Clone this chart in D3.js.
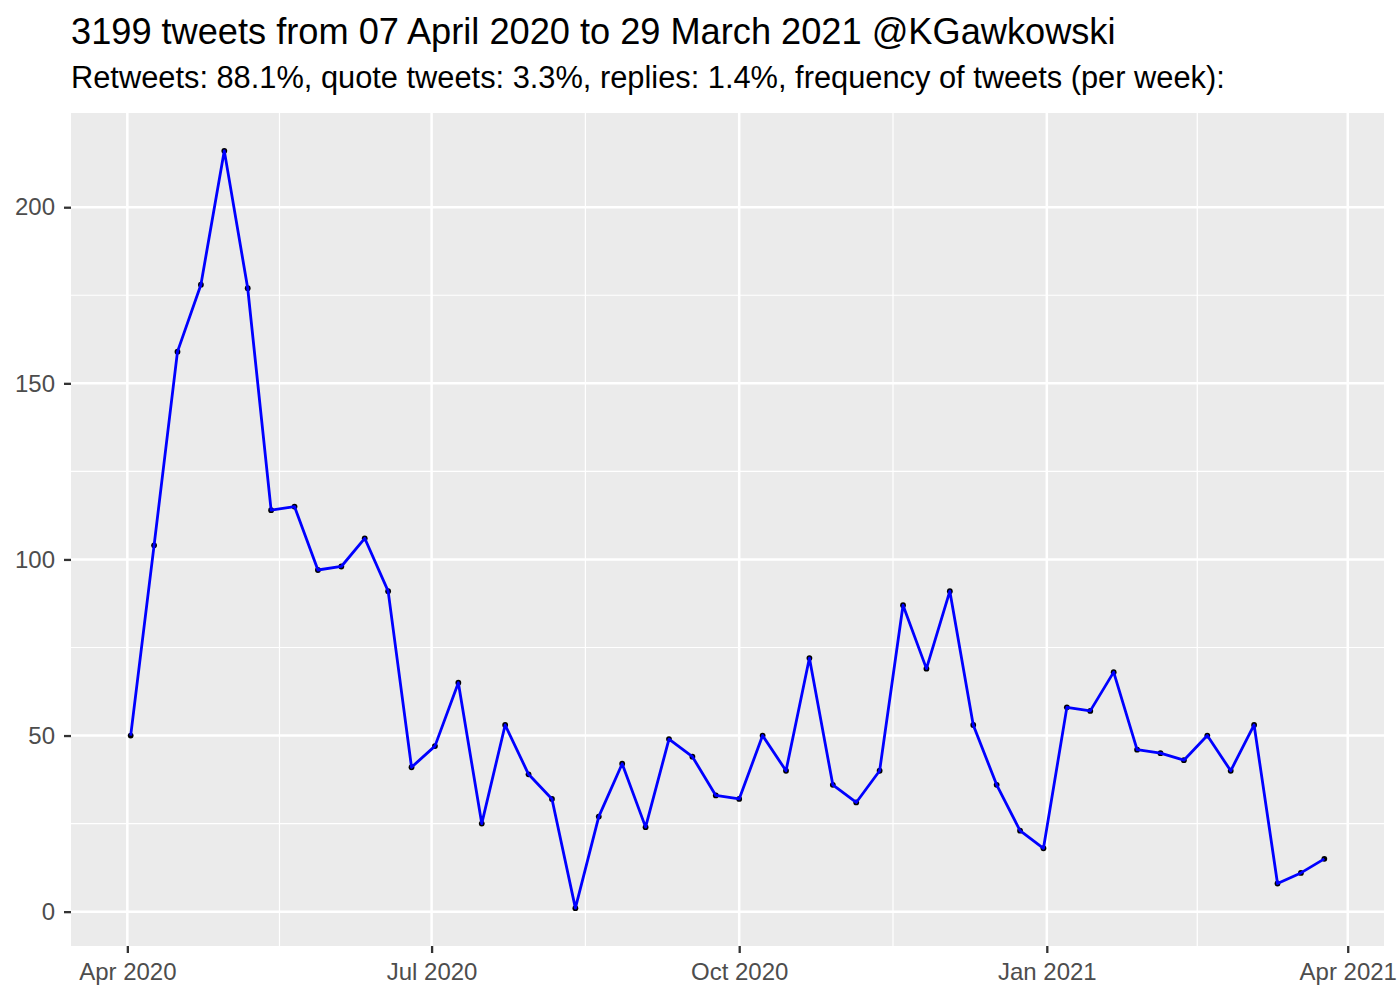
<!DOCTYPE html>
<html><head><meta charset="utf-8">
<script src="https://cdn.jsdelivr.net/npm/d3@7"></script>
<style>body{margin:0;background:#fff;} text{font-family:"Liberation Sans",Arial,sans-serif;}</style>
</head><body>
<svg id="c" width="1400" height="1000"></svg>
<script>
const titleText = "3199 tweets from 07 April 2020 to 29 March 2021 @KGawkowski";
const subtitleText = "Retweets: 88.1%, quote tweets: 3.3%, replies: 1.4%, frequency of tweets (per week):";
const startDate = "2020-04-02";
const weeklyCounts = [50,104,159,178,216,177,114,115,97,98,106,91,41,47,65,25,53,39,32,1,27,42,24,49,44,33,32,50,40,72,36,31,40,87,69,91,53,36,23,18,58,57,68,46,45,43,50,40,53,8,11,15];
const yTicks = [0,50,100,150,200];
const yMinor = [25,75,125,175];
const xTickDates = ["2020-04-01","2020-07-01","2020-10-01","2021-01-01","2021-04-01"];
const xTickLabels = ["Apr 2020","Jul 2020","Oct 2020","Jan 2021","Apr 2021"];

const parse = d3.utcParse("%Y-%m-%d");
const start = parse(startDate);
const data = weeklyCounts.map((v,i)=>({date:d3.utcDay.offset(start, 7*i), value:v}));

const svg = d3.select("#c");
const L=71, R=1384, T=113, B=946;

const xExt = d3.extent(data,d=>d.date);
const span = xExt[1]-xExt[0];
const x = d3.scaleUtc().domain([new Date(+xExt[0]-0.05*span), new Date(+xExt[1]+0.05*span)]).range([L,R]);
const yExt = d3.extent(data,d=>d.value);
const ys = yExt[1]-yExt[0];
const y = d3.scaleLinear().domain([yExt[0]-0.05*ys, yExt[1]+0.05*ys]).range([B,T]);

svg.append("rect").attr("x",L).attr("y",T).attr("width",R-L).attr("height",B-T).attr("fill","#EBEBEB");

const xMajor = xTickDates.map(parse);
const xMinorD = [];
for(let i=0;i<xMajor.length-1;i++) xMinorD.push(new Date((+xMajor[i]+ +xMajor[i+1])/2));

const g = svg.append("g");
g.selectAll(".ymin").data(yMinor).join("line").attr("x1",L).attr("x2",R).attr("y1",d=>y(d)).attr("y2",d=>y(d)).attr("stroke","#fff").attr("stroke-width",1.2);
g.selectAll(".xmin").data(xMinorD).join("line").attr("y1",T).attr("y2",B).attr("x1",d=>x(d)).attr("x2",d=>x(d)).attr("stroke","#fff").attr("stroke-width",1.2);
g.selectAll(".ymaj").data(yTicks).join("line").attr("x1",L).attr("x2",R).attr("y1",d=>y(d)).attr("y2",d=>y(d)).attr("stroke","#fff").attr("stroke-width",2.5);
g.selectAll(".xmaj").data(xMajor).join("line").attr("y1",T).attr("y2",B).attr("x1",d=>x(d)).attr("x2",d=>x(d)).attr("stroke","#fff").attr("stroke-width",2.5);

// axes
const yAxis = d3.axisLeft(y).tickValues(yTicks).tickSize(7).tickPadding(9);
const ya = svg.append("g").attr("transform",`translate(${L},0)`).call(yAxis);
ya.select(".domain").remove();
ya.selectAll(".tick line").attr("stroke","#333").attr("stroke-width",2.3);
ya.selectAll(".tick text").attr("fill","#4D4D4D").style("font-size","24px").style("font-family","Liberation Sans, Arial, sans-serif");

const xAxis = d3.axisBottom(x).tickValues(xMajor).tickFormat((d,i)=>xTickLabels[i]).tickSize(7).tickPadding(10);
const xa = svg.append("g").attr("transform",`translate(0,${B})`).call(xAxis);
xa.select(".domain").remove();
xa.selectAll(".tick line").attr("stroke","#333").attr("stroke-width",2.3);
xa.selectAll(".tick text").attr("fill","#4D4D4D").style("font-size","24px").style("font-family","Liberation Sans, Arial, sans-serif");

// points then line
svg.append("g").selectAll("circle").data(data).join("circle")
  .attr("cx",d=>x(d.date)).attr("cy",d=>y(d.value)).attr("r",2.9).attr("fill","#000");
svg.append("path").datum(data)
  .attr("d",d3.line().x(d=>x(d.date)).y(d=>y(d.value)))
  .attr("fill","none").attr("stroke","#0000FF").attr("stroke-width",2.8).attr("stroke-linejoin","round");

svg.append("text").attr("x",L).attr("y",44).text(titleText).attr("fill","#000").style("font-size","36.2px");
svg.append("text").attr("x",L).attr("y",88).text(subtitleText).attr("fill","#000").style("font-size","30.8px");
</script>
</body></html>
